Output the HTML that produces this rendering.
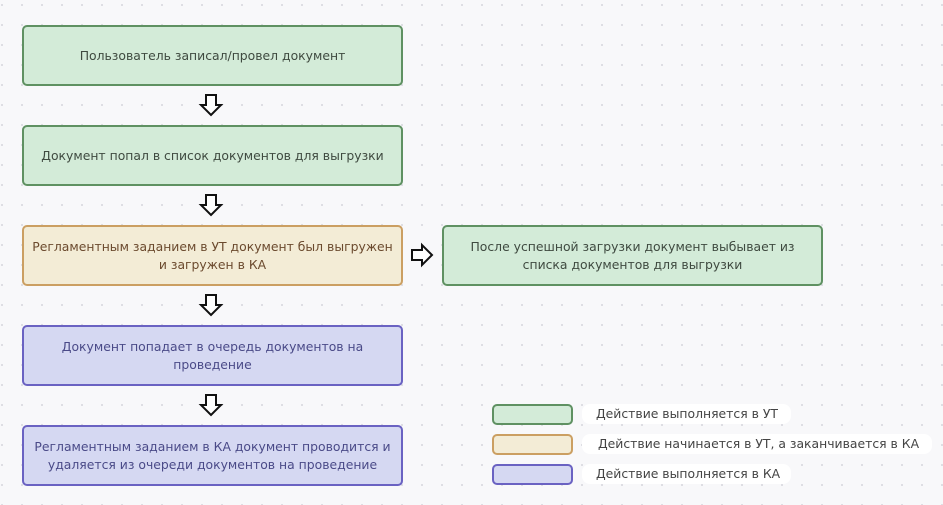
<!DOCTYPE html>
<html><head><meta charset="utf-8"><style>
html,body{margin:0;padding:0;}
body{width:943px;height:505px;position:relative;overflow:hidden;background-color:#f8f8fa;
background-image:radial-gradient(circle,#dcdce2 1px,transparent 1.3px);background-size:20px 20px;background-position:-8px -5px;
font-family:"DejaVu Sans","Liberation Sans",sans-serif;}
.b{position:absolute;box-sizing:border-box;border:2px solid;border-radius:5px;display:flex;align-items:center;justify-content:center;text-align:center;font-size:12.4px;line-height:18px;padding:0 8px;}
.g{background:#d3ebd8;border-color:#5f9162;color:#3f4a40;}
.y{background:#f3ecd6;border-color:#cb9f62;color:#6b4a2e;}
.p{background:#d5d8f2;border-color:#6a62c2;color:#4a4a88;}
.l{position:absolute;background:#fff;border-radius:8px;height:20px;line-height:20px;font-size:12.4px;color:#444;padding-left:14px;box-sizing:border-box;white-space:nowrap;}
svg{position:absolute;left:0;top:0;}
</style></head><body>
<div class="b g" style="left:22px;top:25px;width:381px;height:61px;">Пользователь записал/провел документ</div>
<div class="b g" style="left:22px;top:125px;width:381px;height:61px;">Документ попал в список документов для выгрузки</div>
<div class="b y" style="left:22px;top:225px;width:381px;height:61px;padding:0 4px;">Регламентным заданием в УТ документ был выгружен и загружен в КА</div>
<div class="b g" style="left:442px;top:225px;width:381px;height:61px;padding:0 20px;">После успешной загрузки документ выбывает из списка документов для выгрузки</div>
<div class="b p" style="left:22px;top:325px;width:381px;height:61px;padding:0 30px;">Документ попадает в очередь документов на проведение</div>
<div class="b p" style="left:22px;top:425px;width:381px;height:61px;padding:0 4px;">Регламентным заданием в КА документ проводится и удаляется из очереди документов на проведение</div>
<div class="b g" style="left:492px;top:404px;width:81px;height:21px;"></div>
<div class="b y" style="left:492px;top:434px;width:81px;height:21px;"></div>
<div class="b p" style="left:492px;top:464px;width:81px;height:21px;"></div>
<div class="l" style="left:582px;top:404px;width:209px;">Действие выполняется в УТ</div>
<div class="l" style="left:582px;top:434px;width:350px;padding-left:16px;">Действие начинается в УТ, а заканчивается в КА</div>
<div class="l" style="left:582px;top:464px;width:209px;">Действие выполняется в КА</div>
<svg width="943" height="505">
<g fill="#fff" stroke="#111" stroke-width="2" stroke-linejoin="miter">
<path d="M206 95H216V105H221L211 115L201 105H206Z"/>
<path d="M206 195H216V205H221L211 215L201 205H206Z"/>
<path d="M206 295H216V305H221L211 315L201 305H206Z"/>
<path d="M206 395H216V405H221L211 415L201 405H206Z"/>
<path d="M412 250H422V245L432 255L422 265V260H412Z"/>
</g></svg>
</body></html>
